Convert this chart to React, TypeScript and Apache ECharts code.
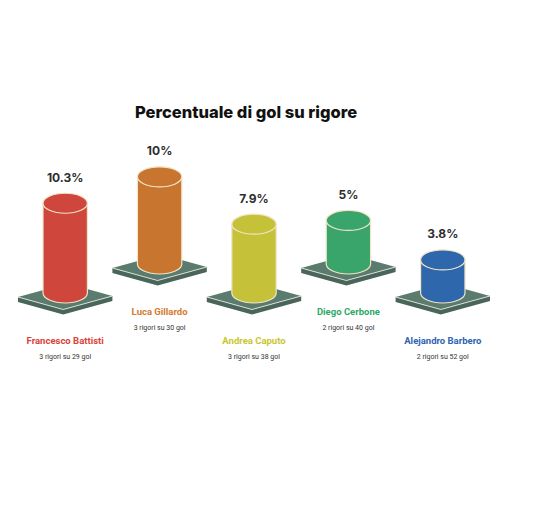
import React, { useEffect, useRef } from "react";
import * as echarts from "echarts";

const players = ["Francesco Battisti", "Luca Gillardo", "Andrea Caputo", "Diego Cerbone", "Alejandro Barbero"];
const percentages = [10.3, 10, 7.9, 5, 3.8];
const penalties = [3, 3, 3, 2, 2];
const goals = [29, 30, 38, 40, 52];
const barColors = ["#cf463c", "#c8762f", "#c5c23a", "#3aa56a", "#2f67ad"];
const nameColors = ["#d8433a", "#d47b2f", "#c9c630", "#2ea868", "#2d63b0"];
const titleText = "Percentuale di gol su rigore";

export default function App() {
  const ref = useRef<HTMLDivElement>(null);
  useEffect(() => {
    if (!ref.current) return;
    const chart = echarts.init(ref.current, undefined, { renderer: "svg" });
    const renderItem = (params: any, api: any) => {
      const i = params.dataIndex;
      const v = api.value(1);
      const top = api.coord([i, v]);
      const base = api.coord([i, 0]);
      const band = api.size([1, 0])[0];
      const shift = i % 2 === 1 ? -29 : 0;
      const cx = top[0];
      const yt = top[1] + shift;
      const yb = base[1] + shift;
      const rx = band * 0.235;
      const ry = 10;
      const hw = band * 0.5;
      const hh = 12.5;
      const th = 5;
      const py = yb + 4;
      const L = [cx - hw, py];
      const R = [cx + hw, py - 1];
      const B = [cx - 2, py + hh];
      const T = [cx + 2, py - hh - 1];
      const body = `M ${cx - rx} ${yt} L ${cx - rx} ${yb} A ${rx} ${ry} 0 0 0 ${cx + rx} ${yb} L ${cx + rx} ${yt} Z`;
      const font = "Roboto, sans-serif";
      return {
        type: "group",
        children: [
          {
            type: "polygon",
            shape: { points: [L, B, R, [R[0], R[1] + th], [B[0], B[1] + th], [L[0], L[1] + th]] },
            style: { fill: "#4a655a" },
          },
          {
            type: "polygon",
            shape: { points: [L, T, R, B] },
            style: { fill: "#5b7b6e" },
          },
          {
            type: "polyline",
            shape: { points: [L, B, R] },
            style: { stroke: "#d5ddd6", lineWidth: 1, fill: null },
          },
          {
            type: "path",
            shape: { pathData: body },
            style: { fill: barColors[i], stroke: "#f1e4c9", lineWidth: 1.2 },
          },
          {
            type: "ellipse",
            shape: { cx, cy: yt, rx, ry },
            style: { fill: barColors[i], stroke: "#f1e4c9", lineWidth: 1.2 },
          },
          {
            type: "text",
            style: {
              text: `${percentages[i]}%`,
              x: cx,
              y: yt - 26,
              fill: "#2e2e2e",
              fontSize: 12,
              fontWeight: "bold",
              fontFamily: "Inter, sans-serif",
              align: "center",
              verticalAlign: "middle",
              textAlign: "center",
              textVerticalAlign: "middle",
            },
          },
          {
            type: "text",
            style: {
              text: players[i],
              x: cx,
              y: yb + 47,
              fill: nameColors[i],
              fontSize: 9.5,
              fontWeight: "bold",
              fontFamily: font,
              align: "center",
              verticalAlign: "middle",
              textAlign: "center",
              textVerticalAlign: "middle",
            },
          },
          {
            type: "text",
            style: {
              text: `${penalties[i]} rigori su ${goals[i]} gol`,
              x: cx,
              y: yb + 64,
              fill: "#333333",
              fontSize: 7,
              fontFamily: font,
              align: "center",
              verticalAlign: "middle",
              textAlign: "center",
              textVerticalAlign: "middle",
            },
          },
        ],
      };
    };
    chart.setOption({
      animation: false,
      backgroundColor: "#ffffff",
      title: {
        text: titleText,
        left: 130,
        top: 98,
        textStyle: { fontSize: 16.5, fontWeight: 800, fontFamily: "Inter, sans-serif", color: "#111111" },
      },
      grid: { left: 18, right: 63, top: 171, bottom: 226 },
      xAxis: { type: "category", data: players, show: false },
      yAxis: { type: "value", min: 0, max: 14, show: false, splitLine: { show: false } },
      series: [
        {
          type: "custom",
          clip: false,
          renderItem,
          encode: { x: 0, y: 1 },
          data: percentages.map((v, i) => [i, v]),
        },
      ],
    });
    return () => chart.dispose();
  }, []);
  return <div ref={ref} style={{ position: "fixed", left: 0, top: 0, width: 553, height: 519 }} />;
}
